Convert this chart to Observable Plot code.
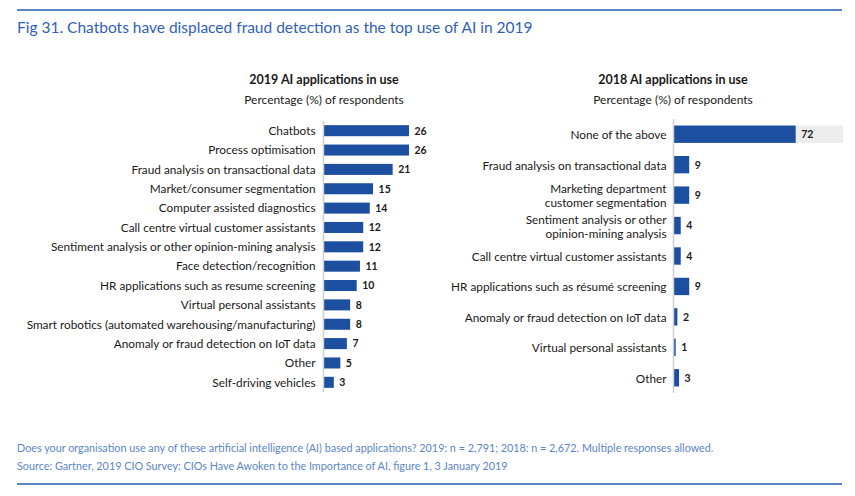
<!DOCTYPE html>
<html>
<head>
<meta charset="utf-8">
<script src="https://cdn.jsdelivr.net/npm/d3@7"></script>
<script src="https://cdn.jsdelivr.net/npm/@observablehq/plot@0.6"></script>
<style>
  html, body { margin: 0; padding: 0; background: #fff; }
  #root { position: relative; width: 855px; height: 496px; font-family: Lato, "Open Sans", sans-serif; overflow: hidden; }
  .rule { position: absolute; left: 17px; width: 825px; height: 2px; background: #5a86c8; }
  #title { position: absolute; left: 17px; top: 18px; font-size: 15.5px; color: #2f62b6; white-space: nowrap; }
  .ptitle { position: absolute; width: 300px; text-align: center; font-size: 12px; color: #1a1a1a; white-space: nowrap; }
  .ptitle.b { font-weight: bold; font-size: 12.5px; }
  .foot { position: absolute; left: 17px; font-size: 10.8px; color: #5a86c8; white-space: nowrap; }
  .plot { position: absolute; }
</style>
</head>
<body>
<div id="root">
  <div class="rule" style="top:9px"></div>
  <div id="title">Fig 31. Chatbots have displaced fraud detection as the top use of AI in 2019</div>
  <div class="ptitle b" style="left:174px; top:72px">2019 AI applications in use</div>
  <div class="ptitle" style="left:174px; top:92px">Percentage (%) of respondents</div>
  <div class="ptitle b" style="left:523px; top:72px">2018 AI applications in use</div>
  <div class="ptitle" style="left:523px; top:92px">Percentage (%) of respondents</div>
  <div class="plot" id="left" style="left:0; top:115px"></div>
  <div class="plot" id="right" style="left:430px; top:115px"></div>
  <div class="foot" style="top:441px">Does your organisation use any of these artificial intelligence (AI) based applications? 2019: n = 2,791; 2018: n = 2,672. Multiple responses allowed.</div>
  <div class="foot" style="top:459px">Source: Gartner, 2019 CIO Survey: CIOs Have Awoken to the Importance of AI, figure 1, 3 January 2019</div>
  <div class="rule" style="top:483px"></div>
</div>
<script>
const apps2019 = [
  "Chatbots",
  "Process optimisation",
  "Fraud analysis on transactional data",
  "Market/consumer segmentation",
  "Computer assisted diagnostics",
  "Call centre virtual customer assistants",
  "Sentiment analysis or other opinion-mining analysis",
  "Face detection/recognition",
  "HR applications such as resume screening",
  "Virtual personal assistants",
  "Smart robotics (automated warehousing/manufacturing)",
  "Anomaly or fraud detection on IoT data",
  "Other",
  "Self-driving vehicles"
];
const values2019 = [26, 26, 21, 15, 14, 12, 12, 11, 10, 8, 8, 7, 5, 3];

const apps2018 = [
  "None of the above",
  "Fraud analysis on transactional data",
  "Marketing department\ncustomer segmentation",
  "Sentiment analysis or other\nopinion-mining analysis",
  "Call centre virtual customer assistants",
  "HR applications such as résumé screening",
  "Anomaly or fraud detection on IoT data",
  "Virtual personal assistants",
  "Other"
];
const values2018 = [72, 9, 9, 4, 4, 9, 2, 1, 3];
const trackMax2018 = 100;

const barColor = "#1d4fa0";
const data2019 = apps2019.map((a, i) => ({app: a, value: values2019[i]}));
const data2018 = apps2018.map((a, i) => ({app: a, value: values2018[i]}));

const common = {
  style: {fontFamily: "Lato, 'Open Sans', sans-serif", fontSize: "12px", color: "#1a1a1a", background: "transparent"}
};

const left = Plot.plot({
  ...common,
  width: 430,
  height: 285,
  marginTop: 6,
  marginBottom: 8,
  marginLeft: 323,
  marginRight: 0,
  x: {domain: [0, 26], range: [324, 409], axis: null},
  y: {domain: apps2019, paddingInner: 0.43, paddingOuter: 0.215, round: false, axis: null},
  marks: [
    Plot.barX(data2019, {y: "app", x: "value", fill: barColor}),
    Plot.ruleX([0], {stroke: "#cfcfcf", strokeWidth: 1.5, dx: -1}),
    Plot.axisY({tickSize: 0, tickPadding: 8, fontSize: 11.8, fill: "#1a1a1a", label: null}),
    Plot.text(data2019, {y: "app", x: "value", text: d => String(d.value), dx: 5, textAnchor: "start", fontWeight: "bold", fontSize: 10.5, fill: "#1a1a1a"})
  ]
});
document.getElementById("left").appendChild(left);

const right = Plot.plot({
  ...common,
  width: 425,
  height: 285,
  marginTop: 4,
  marginBottom: 7,
  marginLeft: 243,
  marginRight: 0,
  x: {domain: [0, trackMax2018], range: [244, 413], axis: null},
  y: {domain: apps2018, paddingInner: 0.43, paddingOuter: 0.215, round: false, axis: null},
  marks: [
    Plot.barX(data2018.filter(d => d.app === "None of the above"), {y: "app", x: trackMax2018, fill: "#ececec"}),
    Plot.barX(data2018, {y: "app", x: "value", fill: barColor}),
    Plot.ruleX([0], {stroke: "#cfcfcf", strokeWidth: 1.5, dx: -1}),
    Plot.axisY({tickSize: 0, tickPadding: 7, fontSize: 11.8, lineHeight: 1.19, fill: "#1a1a1a", label: null}),
    Plot.text(data2018, {y: "app", x: "value", text: d => String(d.value), dx: 5, textAnchor: "start", fontWeight: "bold", fontSize: 10.5, fill: "#1a1a1a"})
  ]
});
document.getElementById("right").appendChild(right);
</script>
</body>
</html>
